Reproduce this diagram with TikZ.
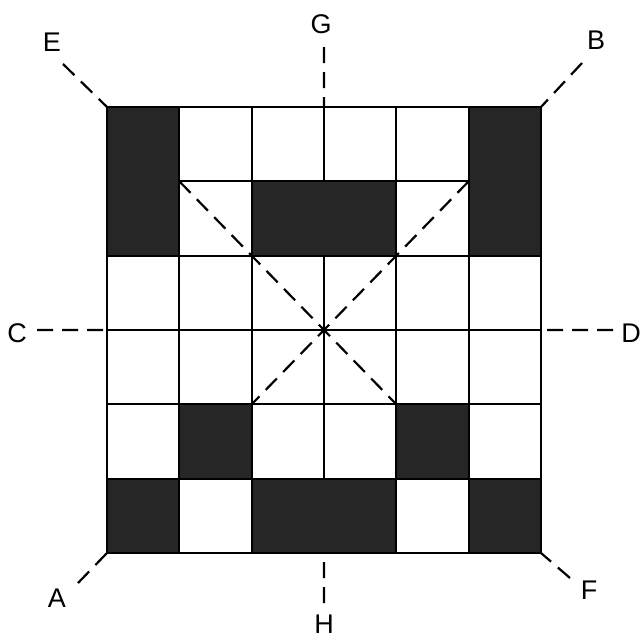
\documentclass[tikz,border=0pt]{standalone}
\usepackage{fontspec}
\setmainfont{Liberation Sans}
\begin{document}
\begin{tikzpicture}[x=1pt,y=-1pt,
  gridline/.style={line width=2pt},
  dark/.style={fill=black!85, draw=black, line width=2pt},
  axisline/.style={line width=2.2pt, dash pattern=on 16pt off 9pt},
  lbl/.style={font=\fontsize{27}{27}\selectfont, inner sep=0pt}]
\useasboundingbox (0,0) rectangle (644,640);
\begin{scope}[shift={(107,107)}, x=72.33pt, y=-74.33pt]
  % grid
  \foreach \i in {0,...,6} {
    \draw[gridline] (\i,0) -- (\i,6);
    \draw[gridline] (0,\i) -- (6,\i);
  }
  % dark blocks
  \draw[dark] (0,0) rectangle (1,2);
  \draw[dark] (5,0) rectangle (6,2);
  \draw[dark] (2,1) rectangle (4,2);
  \draw[dark] (1,4) rectangle (2,5);
  \draw[dark] (4,4) rectangle (5,5);
  \draw[dark] (0,5) rectangle (1,6);
  \draw[dark] (2,5) rectangle (4,6);
  \draw[dark] (5,5) rectangle (6,6);
  % key points
  \coordinate (tl) at (0,0);
  \coordinate (tr) at (6,0);
  \coordinate (bl) at (0,6);
  \coordinate (br) at (6,6);
  \coordinate (tm) at (3,0);
  \coordinate (bm) at (3,6);
  \coordinate (lm) at (0,3);
  \coordinate (rm) at (6,3);
  \coordinate (d1a) at (1,1);
  \coordinate (d1b) at (4,4);
  \coordinate (d2a) at (5,1);
  \coordinate (d2b) at (2,4);
  \draw[axisline] (d1a) -- (d1b);
  \draw[axisline] (d2a) -- (d2b);
\end{scope}
% outer ends of the dashed axes
\coordinate (eE) at (63,64);
\coordinate (eB) at (582,63);
\coordinate (eA) at (78,583);
\coordinate (eF) at (570,578);
\coordinate (eG) at (324,47);
\coordinate (eH) at (324,603);
\coordinate (eC) at (37,330);
\coordinate (eD) at (613,330);
\draw[axisline] (eE) -- (tl);
\draw[axisline] (eB) -- (tr);
\draw[axisline] (eA) -- (bl);
\draw[axisline] (eF) -- (br);
\draw[axisline] (eG) -- (tm);
\draw[axisline] (eH) -- (bm);
\draw[axisline] (eC) -- (lm);
\draw[axisline] (eD) -- (rm);
% labels
\node[lbl] (E) at (52,42) {E};
\node[lbl] (B) at (596,40) {B};
\node[lbl] (G) at (321,24) {G};
\node[lbl] (C) at (17,333) {C};
\node[lbl] (D) at (631,333) {D};
\node[lbl] (A) at (57,598) {A};
\node[lbl] (F) at (589,590) {F};
\node[lbl] (H) at (324,624) {H};
\end{tikzpicture}
\end{document}
